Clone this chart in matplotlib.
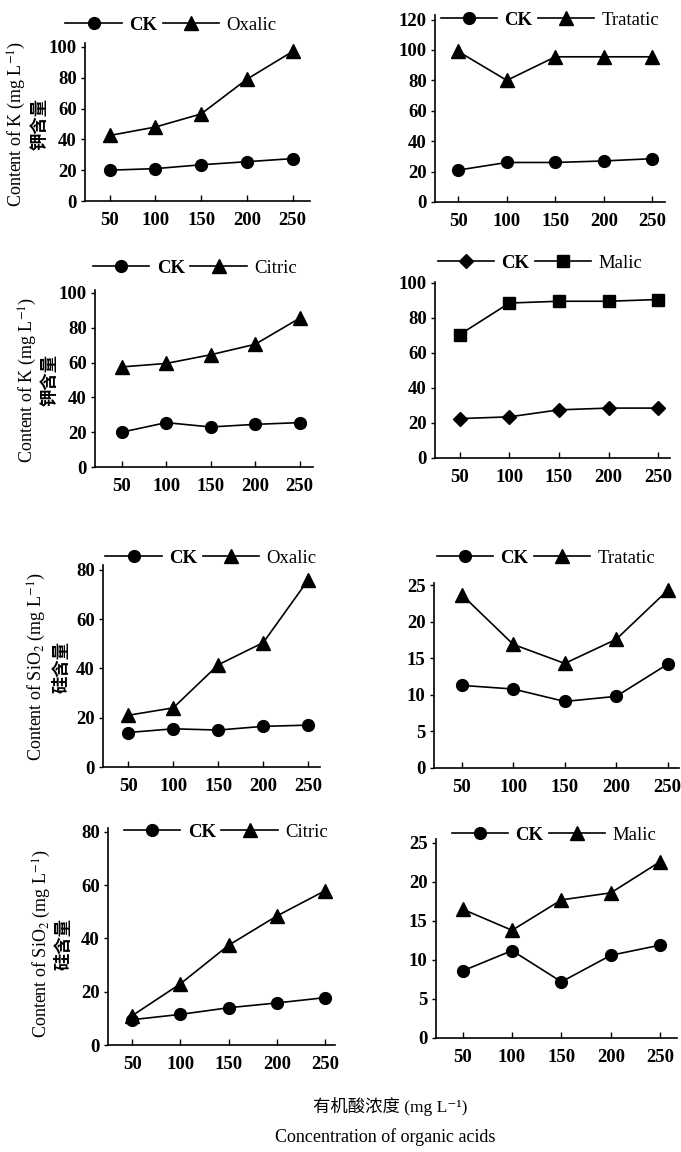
import matplotlib.pyplot as plt

plt.rcParams['font.family'] = ['Liberation Serif', 'Noto Sans CJK SC']
plt.rcParams['mathtext.fontset'] = 'stix'

# ----------------------------
# Data
# ----------------------------
conc = [50, 100, 150, 200, 250]

k_ck_oxalic = [20, 21, 23.5, 25.5, 27.5]
k_oxalic = [42.5, 48, 56.5, 79, 97]
k_ck_tratatic = [21, 26, 26, 27, 28.5]
k_tratatic = [99, 80, 95.5, 95.5, 95.5]
k_ck_citric = [20, 25.5, 23, 24.5, 25.5]
k_citric = [57.5, 59.5, 64.5, 70.5, 85.5]
k_ck_malic = [22.5, 23.5, 27.5, 28.5, 28.5]
k_malic = [70.5, 88.5, 89.5, 89.5, 90.5]

si_ck_oxalic = [14, 15.5, 15, 16.5, 17]
si_oxalic = [21, 24, 41.5, 50.5, 76]
si_ck_tratatic = [11.3, 10.8, 9.1, 9.8, 14.2]
si_tratatic = [23.7, 16.9, 14.3, 17.6, 24.3]
si_ck_citric = [9.5, 11.5, 14, 15.8, 17.8]
si_citric = [11, 23, 37.5, 48.5, 58]
si_ck_malic = [8.6, 11.2, 7.2, 10.6, 11.9]
si_malic = [16.5, 13.8, 17.7, 18.6, 22.6]

acid_names = ["Oxalic", "Tratatic", "Citric", "Malic",
              "Oxalic", "Tratatic", "Citric", "Malic"]
ck_series = [k_ck_oxalic, k_ck_tratatic, k_ck_citric, k_ck_malic,
             si_ck_oxalic, si_ck_tratatic, si_ck_citric, si_ck_malic]
acid_series = [k_oxalic, k_tratatic, k_citric, k_malic,
               si_oxalic, si_tratatic, si_citric, si_malic]
y_max = [100, 120, 100, 100, 80, 25, 80, 25]
y_step = [20, 20, 20, 20, 20, 5, 20, 5]

k_label = "Content of K (mg L$^{-1}$)"
si_label = "Content of SiO$_2$ (mg L$^{-1}$)"
k_cn = "钾含量"
si_cn = "硅含量"

# ----------------------------
# Layout (pixels)
# ----------------------------
W, H = 681, 1152
fig = plt.figure(figsize=(W / 100, H / 100), dpi=100)

# x0, x1, top, bottom of each axes
rects = [(85, 310, 43, 201), (435, 665, 15, 202),
         (95, 313, 290, 467), (435, 670, 282, 458),
         (103, 320, 565, 767), (434, 679, 583, 768),
         (108, 335, 828, 1045), (436, 677, 839, 1038)]
ytops = [102.5, 123, 101.7, 100.5, 82, 25.3, 81.5, 25.5]
xlims = [(23, 269), (26, 263), (20, 265), (25, 262),
         (22, 263), (23, 261), (25, 260), (23, 267)]
legend_xy = [(171, 25), (550, 20), (195, 268), (540, 263),
             (211, 558), (546, 558), (226, 832), (554, 835)]
markers = [("o", "^")] * 3 + [("D", "s")] + [("o", "^")] * 4
msize = {"o": 8.5, "^": 9.5, "D": 7.5, "s": 8}
# y label positions: (x line1, x line2, y centre)
ylab_pos = {0: (17, 40, 124), 2: (28, 50, 380), 4: (37, 62, 667), 6: (42, 64, 944)}


def px_axes(x0, x1, top, bottom):
    return fig.add_axes([x0 / W, 1 - bottom / H, (x1 - x0) / W, (bottom - top) / H])


for i in range(8):
    ax = px_axes(*rects[i])
    mk_ck, mk_acid = markers[i]
    ax.plot(conc, ck_series[i], color="black", lw=1.2, marker=mk_ck,
            ms=msize[mk_ck], label="CK", clip_on=False)
    ax.plot(conc, acid_series[i], color="black", lw=1.2, marker=mk_acid,
            ms=msize[mk_acid], label=acid_names[i], clip_on=False)

    ax.set_xlim(*xlims[i])
    ax.set_ylim(0, ytops[i])
    ax.set_xticks(conc)
    ax.set_yticks(range(0, y_max[i] + 1, y_step[i]))
    for s in ("top", "right"):
        ax.spines[s].set_visible(False)
    for s in ("left", "bottom"):
        ax.spines[s].set_linewidth(1.2)
    ax.tick_params(axis="x", direction="in", length=4, width=1, pad=8)
    ax.tick_params(axis="y", direction="out", length=3, width=1, pad=3)
    for t in ax.get_xticklabels() + ax.get_yticklabels():
        t.set_fontsize(13.5)
        t.set_fontweight("bold")

    cx, cy = legend_xy[i]
    leg = ax.legend(loc="center", bbox_to_anchor=(cx / W, 1 - cy / H),
                    bbox_transform=fig.transFigure, ncol=2, frameon=False,
                    handlelength=3.0, handletextpad=0.4, columnspacing=0.3,
                    borderpad=0, fontsize=13.5)
    leg.get_texts()[0].set_fontweight("bold")

    if i in ylab_pos:
        x1p, x2p, ycp = ylab_pos[i]
        fig.text(x1p / W, 1 - ycp / H, k_label if i < 4 else si_label,
                 rotation=90, ha="center", va="center", fontsize=13)
        fig.text(x2p / W, 1 - ycp / H, k_cn if i < 4 else si_cn,
                 rotation=90, ha="center", va="center", fontsize=12.5,
                 fontweight="bold", family=["Noto Sans CJK SC"])

fig.text(390 / W, 1 - 1106 / H, "有机酸浓度 (mg L⁻¹)", ha="center", va="center",
         fontsize=12.5, family=["Liberation Serif", "Noto Sans CJK SC", "DejaVu Serif"])
fig.text(385 / W, 1 - 1137 / H, "Concentration of organic acids", ha="center",
         va="center", fontsize=13)

fig.savefig("out.png", dpi=100)
